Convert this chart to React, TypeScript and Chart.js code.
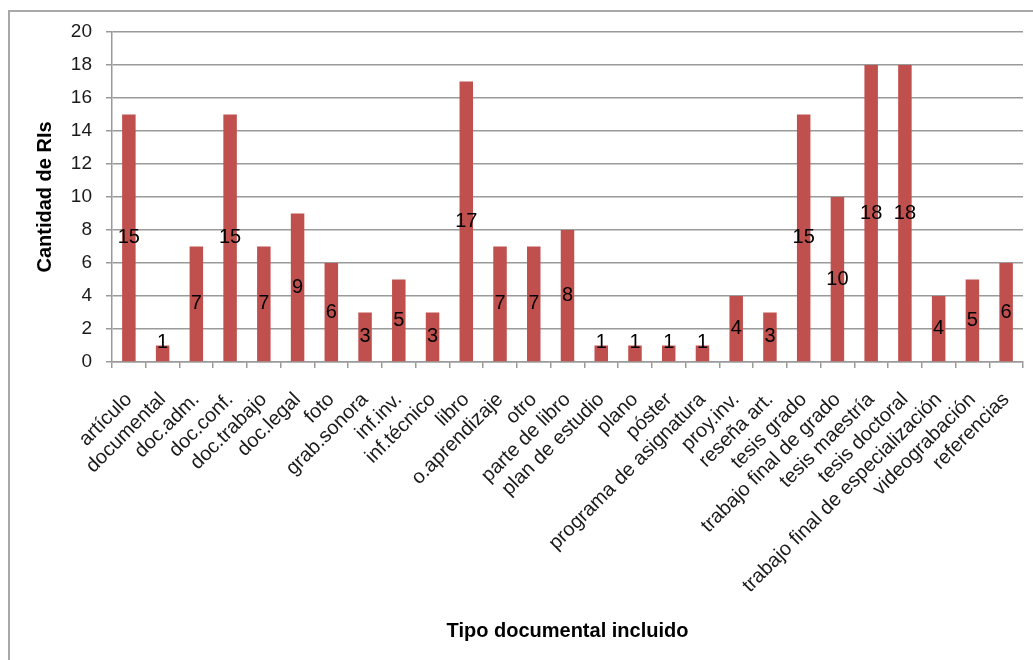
import React, { useEffect, useRef } from "react";
import { Chart, registerables } from "chart.js";

Chart.register(...registerables);

const categories: string[] = [
  "artículo",
  "documental",
  "doc.adm.",
  "doc.conf.",
  "doc.trabajo",
  "doc.legal",
  "foto",
  "grab.sonora",
  "inf.inv.",
  "inf.técnico",
  "libro",
  "o.aprendizaje",
  "otro",
  "parte de libro",
  "plan de estudio",
  "plano",
  "póster",
  "programa de asignatura",
  "proy.inv.",
  "reseña art.",
  "tesis grado",
  "trabajo final de grado",
  "tesis maestría",
  "tesis doctoral",
  "trabajo final de especialización",
  "videograbación",
  "referencias",
];

const cantidad: number[] = [
  15, 1, 7, 15, 7, 9, 6, 3, 5, 3, 17, 7, 7, 8, 1, 1, 1, 1, 4, 3, 15, 10, 18, 18, 4, 5, 6,
];

const yMin = 0;
const yMax = 20;
const yStep = 2;

const yTitle = "Cantidad de RIs";
const xTitle = "Tipo documental incluido";

const FONT = "'Liberation Sans', Arial, sans-serif";

const framePlugin = {
  id: "frame",
  beforeDraw(chart: any) {
    const ctx = chart.ctx;
    ctx.save();
    ctx.fillStyle = "#ffffff";
    ctx.fillRect(0, 0, chart.width, chart.height);
    ctx.strokeStyle = "#a8a8a8";
    ctx.lineWidth = 2;
    ctx.strokeRect(9, 11, chart.width + 20, chart.height + 20);
    ctx.restore();
  },
};

const valueLabelPlugin = {
  id: "valueLabels",
  afterDatasetsDraw(chart: any) {
    const ctx = chart.ctx;
    const meta = chart.getDatasetMeta(0);
    const data = chart.data.datasets[0].data as number[];
    ctx.save();
    ctx.font = `20px ${FONT}`;
    ctx.fillStyle = "#000000";
    ctx.textAlign = "center";
    ctx.textBaseline = "middle";
    meta.data.forEach((bar: any, i: number) => {
      const { x, y, base } = bar.getProps(["x", "y", "base"], true);
      let cy = (y + base) / 2;
      cy = Math.min(cy, base - 19);
      ctx.fillText(String(data[i]), x, cy);
    });
    ctx.restore();
  },
};

export default function App() {
  const canvasRef = useRef<HTMLCanvasElement | null>(null);

  useEffect(() => {
    if (!canvasRef.current) return;
    const chart = new Chart(canvasRef.current, {
      type: "bar",
      data: {
        labels: categories,
        datasets: [
          {
            data: cantidad,
            backgroundColor: "#C0504D",
            borderWidth: 0,
            barPercentage: 0.4,
            categoryPercentage: 1,
          },
        ],
      },
      options: {
        animation: false,
        responsive: true,
        maintainAspectRatio: false,
        devicePixelRatio: 1,
        layout: { padding: { left: 0, right: 10, top: 32, bottom: 0 } },
        plugins: {
          legend: { display: false },
          tooltip: { enabled: false },
          title: { display: false },
        },
        scales: {
          x: {
            offset: true,
            grid: {
              offset: true,
              drawOnChartArea: false,
              drawTicks: true,
              tickLength: 6,
              color: "#9a9a9a",
              lineWidth: 1.5,
            },
            border: { color: "#9a9a9a", width: 1.5 },
            ticks: {
              autoSkip: false,
              maxRotation: 45,
              minRotation: 45,
              color: "#1a1a1a",
              padding: 20,
              font: { family: FONT, size: 20 },
            },
            title: {
              display: true,
              text: xTitle,
              color: "#000000",
              font: { family: FONT, size: 20, weight: "bold" },
              padding: { top: 0, bottom: 17 },
            },
            afterFit(scale: any) {
              scale.height = 298;
              scale.paddingRight = 0;
              scale.paddingLeft = 0;
            },
          },
          y: {
            min: yMin,
            max: yMax,
            ticks: {
              stepSize: yStep,
              color: "#1a1a1a",
              padding: 14,
              font: { family: FONT, size: 19 },
            },
            grid: {
              color: "#9a9a9a",
              lineWidth: 1.5,
              drawTicks: true,
              tickLength: 6,
            },
            border: { color: "#9a9a9a", width: 1.5 },
            title: {
              display: true,
              text: yTitle,
              color: "#000000",
              font: { family: FONT, size: 20, weight: "bold" },
              padding: { top: 33, bottom: 0 },
            },
            afterFit(scale: any) {
              scale.width = 112;
            },
          },
        },
      },
      plugins: [framePlugin, valueLabelPlugin],
    });
    return () => chart.destroy();
  }, []);

  return (
    <div
      style={{
        position: "absolute",
        left: 0,
        top: 0,
        width: "1033px",
        height: "660px",
      }}
    >
      <canvas ref={canvasRef} />
    </div>
  );
}
